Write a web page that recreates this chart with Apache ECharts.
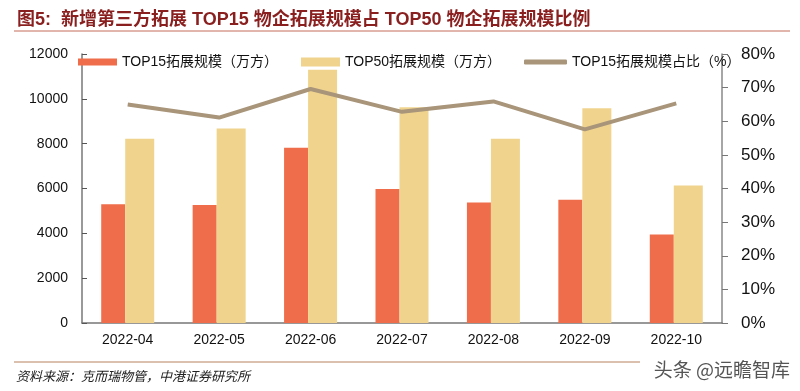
<!DOCTYPE html>
<html><head><meta charset="utf-8">
<script src="https://cdn.jsdelivr.net/npm/echarts@6/dist/echarts.min.js"></script>
<style>html,body{margin:0;padding:0;background:#fff}#c{width:800px;height:391px}</style>
</head><body><div id="c"></div>
<script>
const categories = ['2022-04','2022-05','2022-06','2022-07','2022-08','2022-09','2022-10'];
const top15Scale = [5300, 5260, 7820, 5980, 5380, 5500, 3950];
const top50Scale = [8220, 8680, 11300, 9630, 8220, 9580, 6130];
const top15Share = [65.0, 61.1, 69.6, 62.8, 65.9, 57.6, 65.3];
const seriesNames = ['TOP15拓展规模（万方）', 'TOP50拓展规模（万方）', 'TOP15拓展规模占比（%）'];
const titleText = '图5:  新增第三方拓展 TOP15 物企拓展规模占 TOP50 物企拓展规模比例';
const sourceText = '资料来源：克而瑞物管，中港证券研究所';
const watermark = '头条 @远瞻智库';

const RED = '#ef6d4a', YEL = '#f0d48e', TAN = '#a8957a';
const latin = '"Liberation Sans", Arial, "Noto Sans CJK SC", sans-serif';
const cjk = '"Liberation Sans", "Noto Sans CJK SC", sans-serif';

const chart = echarts.init(document.getElementById('c'), null, {renderer: 'canvas'});
const legendText = {fontSize: 14, color: '#111', fontFamily: cjk, lineHeight: 16};
chart.setOption({
  animation: false,
  backgroundColor: '#fff',
  title: {
    text: titleText, left: 12, top: 6,
    textStyle: {fontSize: 18, fontWeight: 'bold', color: '#8a1f1f', fontFamily: cjk}
  },
  legend: [
    {left: 73, top: 49, itemWidth: 39, itemHeight: 7, itemGap: 5, textStyle: legendText,
     data: [{name: seriesNames[0], icon: 'rect'}]},
    {left: 296, top: 49, itemWidth: 39, itemHeight: 9, textStyle: legendText,
     data: [{name: seriesNames[1], icon: 'rect'}]},
    {left: 519, top: 49, itemWidth: 43, itemHeight: 5, textStyle: legendText,
     data: [{name: seriesNames[2], icon: 'roundRect'}]}
  ],
  grid: {left: 82, right: 78, top: 54, bottom: 68, containLabel: false},
  xAxis: {
    type: 'category', data: categories, boundaryGap: true,
    axisLine: {lineStyle: {color: '#777', width: 1.5}},
    axisTick: {inside: true, length: 4, lineStyle: {color: '#555'}},
    axisLabel: {fontSize: 14, color: '#111', margin: 10, fontFamily: latin}
  },
  yAxis: [
    {type: 'value', min: 0, max: 12000, interval: 2000,
     axisLine: {show: true, lineStyle: {color: '#777', width: 1.5}},
     axisTick: {show: true, inside: true, length: 5, lineStyle: {color: '#555'}},
     splitLine: {show: false},
     axisLabel: {fontSize: 14, color: '#111', margin: 14, fontFamily: latin,
                 formatter: v => String(v)}},
    {type: 'value', min: 0, max: 80, interval: 10,
     axisLine: {show: true, lineStyle: {color: '#888', width: 1.5}},
     axisTick: {show: true, inside: false, length: 6, lineStyle: {color: '#777'}},
     splitLine: {show: false},
     axisLabel: {fontSize: 17, color: '#111', margin: 19, fontFamily: latin, formatter: '{value}%'}}
  ],
  series: [
    {name: seriesNames[0], type: 'bar', data: top15Scale, barWidth: 24, barGap: '0%',
     itemStyle: {color: RED}},
    {name: seriesNames[1], type: 'bar', data: top50Scale, barWidth: 29, barGap: '0%',
     itemStyle: {color: YEL}},
    {name: seriesNames[2], type: 'line', yAxisIndex: 1, data: top15Share, showSymbol: false,
     symbol: 'none', lineStyle: {color: TAN, width: 4}, itemStyle: {color: TAN}, z: 5}
  ],
  graphic: [
    {type: 'line', shape: {x1: 14, y1: 31, x2: 790, y2: 31}, style: {stroke: '#c46a5a', lineWidth: 1}},
    {type: 'line', shape: {x1: 14, y1: 362, x2: 640, y2: 362}, style: {stroke: '#b9815f', lineWidth: 1}},
    {type: 'text', left: 16, top: 370,
     style: {text: sourceText, font: 'italic 13px "Noto Sans CJK SC", sans-serif', fill: '#222'}},
    {type: 'text', right: 10, top: 360,
     style: {text: watermark, font: '19px "Noto Sans CJK SC", sans-serif', fill: '#555'}}
  ]
});
</script></body></html>
